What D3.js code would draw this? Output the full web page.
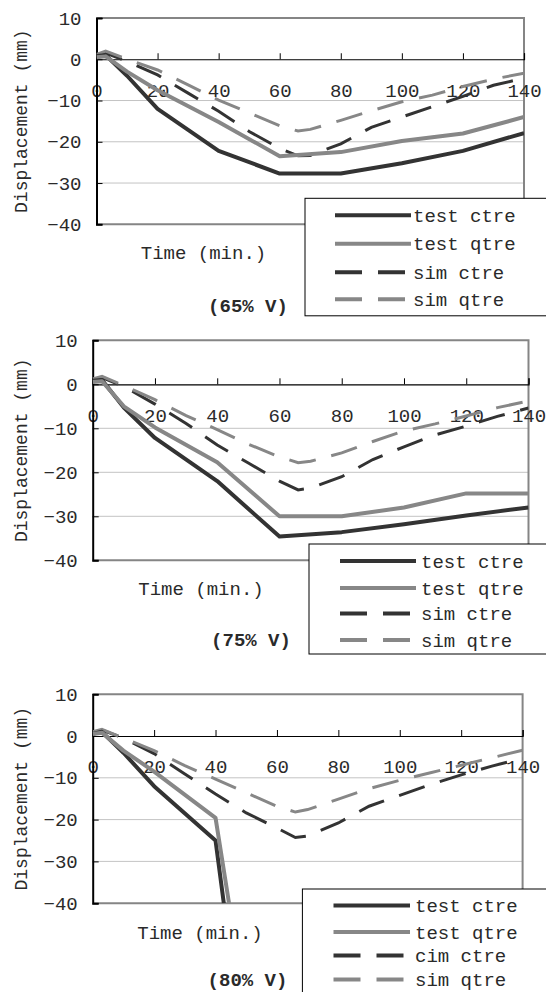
<!DOCTYPE html>
<html>
<head>
<meta charset="utf-8">
<script src="https://cdn.jsdelivr.net/npm/d3@7"></script>
<style>
  body { margin: 0; background: #fff; }
  text { font-family: 'Liberation Mono', 'Courier New', monospace; fill: #2a2a2a; }
</style>
</head>
<body>
<script>
// axis values
const xTicks = [0, 20, 40, 60, 80, 100, 120, 140];
const yTicks = [10, 0, -10, -20, -30, -40];
const gridValues = [-10, -20, -30];

// time points (min.)
const timeTest = [0, 3, 10, 20, 40, 60, 80, 100, 120, 140];
const timeSim = [0, 3, 10, 20, 30, 40, 50, 60, 66, 70, 80, 90, 100, 110, 120, 130, 140];
const timeTestCtre80 = [0, 3, 10, 20, 40, 42.7];
const timeTestQtre80 = [0, 3, 10, 20, 40, 44.4];

// 65% V
const testCtre65 = [0.8, 1, -4, -12, -22.2, -27.7, -27.7, -25.2, -22.2, -17.9];
const testQtre65 = [0.5, 0.7, -3, -7.5, -15.2, -23.5, -22.5, -19.8, -18, -14];
const simCtre65 = [0.8, 1.5, -0.5, -3.8, -8.2, -12.6, -17.5, -21.6, -23.4, -23.3, -20.5, -16.5, -14, -11.5, -9, -6.3, -4.6];
const simQtre65 = [1.2, 2, 0, -2.6, -6.2, -9.9, -13, -16.1, -17.4, -17, -14.8, -12.5, -10.3, -8.7, -6.6, -4.8, -3.4];

// 75% V
const testCtre75 = [0.8, 1, -5.3, -12.2, -22, -34.6, -33.6, -31.8, -29.8, -28];
const testQtre75 = [0.5, 0.7, -5, -9.8, -17.7, -30, -30, -28, -24.8, -24.8];
const simCtre75 = [0.8, 1.5, -0.5, -4.5, -8.9, -13.8, -17.9, -22, -24, -23.6, -21, -17.1, -14.2, -11.5, -9.5, -7.3, -5.4];
const simQtre75 = [1.2, 1.8, -0.3, -3.5, -7.1, -10.3, -13.6, -16.5, -17.8, -17.5, -15.6, -13, -10.6, -9, -7.2, -5.3, -3.8];

// 80% V
const testCtre80 = [0.5, 1, -4, -12, -25, -40];
const testQtre80 = [0.5, 0.8, -3.5, -8.5, -19.6, -40];
const simCtre80 = [0.8, 1.4, -0.5, -4.2, -9.1, -13.9, -18.4, -22, -24.3, -23.9, -20.8, -16.8, -14.2, -11.6, -9.3, -7.2, -5.3];
const simQtre80 = [1, 1.6, -0.5, -3.5, -7.1, -10.3, -13.6, -16.8, -18.2, -17.6, -15.1, -12.6, -10.6, -8.8, -7, -5.2, -3.4];

const legendLabels = ['test ctre', 'test qtre', 'sim ctre', 'sim qtre'];
const legendLabels80 = ['test ctre', 'test qtre', 'cim ctre', 'sim qtre'];
const panelTitles = ['(65% V)', '(75% V)', '(80% V)'];
const xTitle = 'Time (min.)';
const yTitle = 'Displacement (mm)';

const dark = '#333333';
const grey = '#878787';

const zip = (xs, ys) => xs.map((x, i) => [x, ys[i]]);

// one entry per chart: layout box plus its series
const panels = [
    {
        left: 96.5, right: 524, top: 18, bottom: 224.3,
        legend: { x: 305, y: 198.3, h: 117.5, s0: 335, s1: 411, tx: 413, rows: [17, 45.5, 74, 101] },
        timeLabel: [203.5, 252], title: [248, 305], labels: legendLabels,
        series: [
            { pts: zip(timeTest, testCtre65), color: dark, sim: false },
            { pts: zip(timeTest, testQtre65), color: grey, sim: false },
            { pts: zip(timeSim, simCtre65), color: dark, sim: true },
            { pts: zip(timeSim, simQtre65), color: grey, sim: true }
        ]
    },
    {
        left: 92.7, right: 528.5, top: 340.3, bottom: 560.3,
        legend: { x: 309, y: 544, h: 110, s0: 340, s1: 416, tx: 421, rows: [17, 44, 69.5, 96] },
        timeLabel: [201, 588.5], title: [251, 639.5], labels: legendLabels,
        series: [
            { pts: zip(timeTest, testCtre75), color: dark, sim: false },
            { pts: zip(timeTest, testQtre75), color: grey, sim: false },
            { pts: zip(timeSim, simCtre75), color: dark, sim: true },
            { pts: zip(timeSim, simQtre75), color: grey, sim: true }
        ]
    },
    {
        left: 92.7, right: 522.6, top: 694.2, bottom: 903.2,
        legend: { x: 302.4, y: 889, h: 130, s0: 333.5, s1: 410, tx: 415, rows: [16.5, 43, 66.5, 90.5] },
        timeLabel: [200, 932.5], title: [247.5, 979.5], labels: legendLabels80,
        series: [
            { pts: zip(timeTestCtre80, testCtre80), color: dark, sim: false },
            { pts: zip(timeTestQtre80, testQtre80), color: grey, sim: false },
            { pts: zip(timeSim, simCtre80), color: dark, sim: true },
            { pts: zip(timeSim, simQtre80), color: grey, sim: true }
        ]
    }
];

const svg = d3.select('body').append('svg')
    .attr('width', 546)
    .attr('height', 992);

svg.append('rect').attr('width', 546).attr('height', 992).attr('fill', '#fff');

panels.forEach((p, i) => drawPanel(p, i));

function drawPanel(p, idx) {
    const x = d3.scaleLinear().domain([0, 140]).range([p.left, p.right]);
    const y = d3.scaleLinear().domain([-40, 10]).range([p.bottom, p.top]);
    const g = svg.append('g');

    // gridlines
    g.selectAll('line.grid').data(gridValues).join('line')
        .attr('class', 'grid')
        .attr('x1', p.left).attr('x2', p.right)
        .attr('y1', d => y(d)).attr('y2', d => y(d))
        .attr('stroke', '#c4c4c4').attr('stroke-width', 1);

    // plot area frame (top, right, bottom)
    g.append('path')
        .attr('d', `M${p.left},${y(10)}H${p.right}V${y(-40)}H${p.left}`)
        .attr('fill', 'none').attr('stroke', '#858585').attr('stroke-width', 2);

    // x axis sits on the zero line, ticks point up, labels well below
    const xAxis = d3.axisBottom(x).tickValues(xTicks).tickSize(-6).tickPadding(24).tickFormat(d3.format('d'));
    const gx = g.append('g')
        .attr('transform', `translate(0,${y(0)})`)
        .call(xAxis);
    gx.select('.domain').attr('stroke', '#000').attr('stroke-width', 1.2);
    gx.selectAll('.tick line').attr('stroke', '#000');
    gx.selectAll('.tick text').style('font-size', '19px').attr('fill', '#2a2a2a');

    // y axis, ticks pointing into the plot
    const yAxis = d3.axisLeft(y).tickValues(yTicks).tickSize(-6).tickPadding(15).tickFormat(d3.format('d'));
    const gy = g.append('g')
        .attr('transform', `translate(${p.left},0)`)
        .call(yAxis);
    gy.select('.domain').attr('stroke', '#000').attr('stroke-width', 2);
    gy.selectAll('.tick line').attr('stroke', '#000');
    gy.selectAll('.tick text').style('font-size', '19px').attr('fill', '#2a2a2a');

    // clip series to the plot area
    const clipId = 'clip' + idx;
    g.append('clipPath').attr('id', clipId)
        .append('rect')
        .attr('x', p.left).attr('y', p.top)
        .attr('width', p.right - p.left).attr('height', p.bottom - p.top);

    const line = d3.line().x(d => x(d[0])).y(d => y(d[1]));
    const lines = g.append('g').attr('clip-path', `url(#${clipId})`);

    // sim lines under the test lines
    p.series.filter(s => s.sim).forEach(s => {
        lines.append('path')
            .attr('d', line(s.pts))
            .attr('fill', 'none')
            .attr('stroke', s.color)
            .attr('stroke-width', 3)
            .attr('stroke-dasharray', '27,16');
    });
    p.series.filter(s => !s.sim).forEach(s => {
        lines.append('path')
            .attr('d', line(s.pts))
            .attr('fill', 'none')
            .attr('stroke', s.color)
            .attr('stroke-width', 4)
            .attr('stroke-linejoin', 'round');
    });

    // axis titles
    g.append('text')
        .attr('transform', `translate(27,${(p.top + p.bottom) / 2}) rotate(-90)`)
        .attr('text-anchor', 'middle')
        .style('font-size', '18px')
        .text(yTitle);

    g.append('text')
        .attr('x', p.timeLabel[0]).attr('y', p.timeLabel[1])
        .attr('dy', '0.35em')
        .attr('text-anchor', 'middle')
        .style('font-size', '19px')
        .text(xTitle);

    g.append('text')
        .attr('x', p.title[0]).attr('y', p.title[1])
        .attr('dy', '0.35em')
        .attr('text-anchor', 'middle')
        .style('font-size', '19px')
        .style('font-weight', 'bold')
        .attr('fill', '#111')
        .text(panelTitles[idx]);

    // legend box drawn over the plot corner
    const L = p.legend;
    const lg = g.append('g');
    lg.append('rect')
        .attr('x', L.x).attr('y', L.y)
        .attr('width', 300).attr('height', L.h)
        .attr('fill', '#fff').attr('stroke', '#000').attr('stroke-width', 1);

    const items = lg.selectAll('g.item').data(p.series).join('g')
        .attr('class', 'item')
        .attr('transform', (d, j) => `translate(0,${L.y + L.rows[j]})`);

    items.append('line')
        .attr('x1', L.s0).attr('x2', L.s1)
        .attr('stroke', d => d.color)
        .attr('stroke-width', 4)
        .attr('stroke-dasharray', d => d.sim ? '27,16' : null);

    items.append('text')
        .attr('x', L.tx)
        .attr('dy', '0.35em')
        .style('font-size', '19px')
        .text((d, j) => p.labels[j]);
}
</script>
</body>
</html>
